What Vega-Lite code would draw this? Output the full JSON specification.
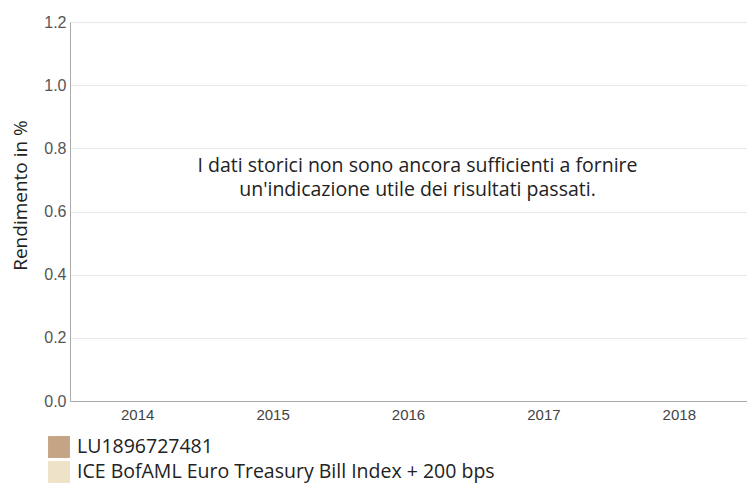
{
  "$schema": "https://vega.github.io/schema/vega-lite/v6.json",
  "width": 677,
  "height": 379,
  "autosize": {"type": "none"},
  "padding": {"left": 70, "top": 22, "right": 0, "bottom": 83},
  "background": "white",
  "config": {"view": {"stroke": null}},
  "datasets": {
    "bars": [
      {"year": "2014", "series": "LU1896727481", "value": 0},
      {"year": "2014", "series": "ICE BofAML Euro Treasury Bill Index + 200 bps", "value": 0},
      {"year": "2015", "series": "LU1896727481", "value": 0},
      {"year": "2015", "series": "ICE BofAML Euro Treasury Bill Index + 200 bps", "value": 0},
      {"year": "2016", "series": "LU1896727481", "value": 0},
      {"year": "2016", "series": "ICE BofAML Euro Treasury Bill Index + 200 bps", "value": 0},
      {"year": "2017", "series": "LU1896727481", "value": 0},
      {"year": "2017", "series": "ICE BofAML Euro Treasury Bill Index + 200 bps", "value": 0},
      {"year": "2018", "series": "LU1896727481", "value": 0},
      {"year": "2018", "series": "ICE BofAML Euro Treasury Bill Index + 200 bps", "value": 0}
    ],
    "note": [
      {"year": "2016", "value": 0.745, "label": ["I dati storici non sono ancora sufficienti a fornire", "un'indicazione utile dei risultati passati."]}
    ]
  },
  "layer": [
    {
      "data": {"name": "bars"},
      "mark": {"type": "bar", "strokeWidth": 0},
      "encoding": {
        "x": {
          "field": "year", "type": "nominal",
          "scale": {"paddingInner": 0, "paddingOuter": 0},
          "axis": {
            "title": null, "labelAngle": 0, "ticks": false, "grid": false,
            "domainColor": "#aaaaaa", "labelFont": "Liberation Sans",
            "labelFontSize": 15, "labelColor": "#444444", "labelPadding": 6
          }
        },
        "xOffset": {"field": "series", "sort": ["LU1896727481", "ICE BofAML Euro Treasury Bill Index + 200 bps"]},
        "y": {
          "field": "value", "type": "quantitative",
          "scale": {"domain": [0, 1.2]},
          "axis": {
            "title": "Rendimento in %", "titleFont": "Open Sans", "titleFontSize": 19,
            "titleFontWeight": "normal", "titleColor": "#222222", "titlePadding": 13,
            "titleY": 173,
            "values": [0, 0.2, 0.4, 0.6, 0.8, 1.0, 1.2], "format": ".1f",
            "ticks": false, "domainColor": "#aaaaaa", "gridColor": "#e8e8e8",
            "labelFont": "Liberation Sans", "labelFontSize": 16, "labelColor": "#555555",
            "labelPadding": 4
          }
        },
        "color": {
          "field": "series", "type": "nominal",
          "sort": ["LU1896727481", "ICE BofAML Euro Treasury Bill Index + 200 bps"],
          "scale": {"range": ["#c4a484", "#eee3c8"]},
          "legend": {
            "title": null, "orient": "none", "legendX": -22, "legendY": 414,
            "symbolType": "square", "symbolSize": 480, "symbolStrokeWidth": 0,
            "symbolOpacity": 1, "rowPadding": 3, "labelFont": "Open Sans",
            "labelFontSize": 19.5, "labelColor": "#222222", "labelOffset": 7,
            "labelLimit": 700
          }
        }
      }
    },
    {
      "data": {"name": "note"},
      "mark": {"type": "text", "font": "Open Sans", "fontSize": 19.5, "color": "#222222", "align": "center", "baseline": "middle", "lineHeight": 24, "dx": 9},
      "encoding": {
        "x": {"field": "year", "type": "nominal"},
        "y": {"field": "value", "type": "quantitative"},
        "text": {"field": "label"}
      }
    }
  ]
}
